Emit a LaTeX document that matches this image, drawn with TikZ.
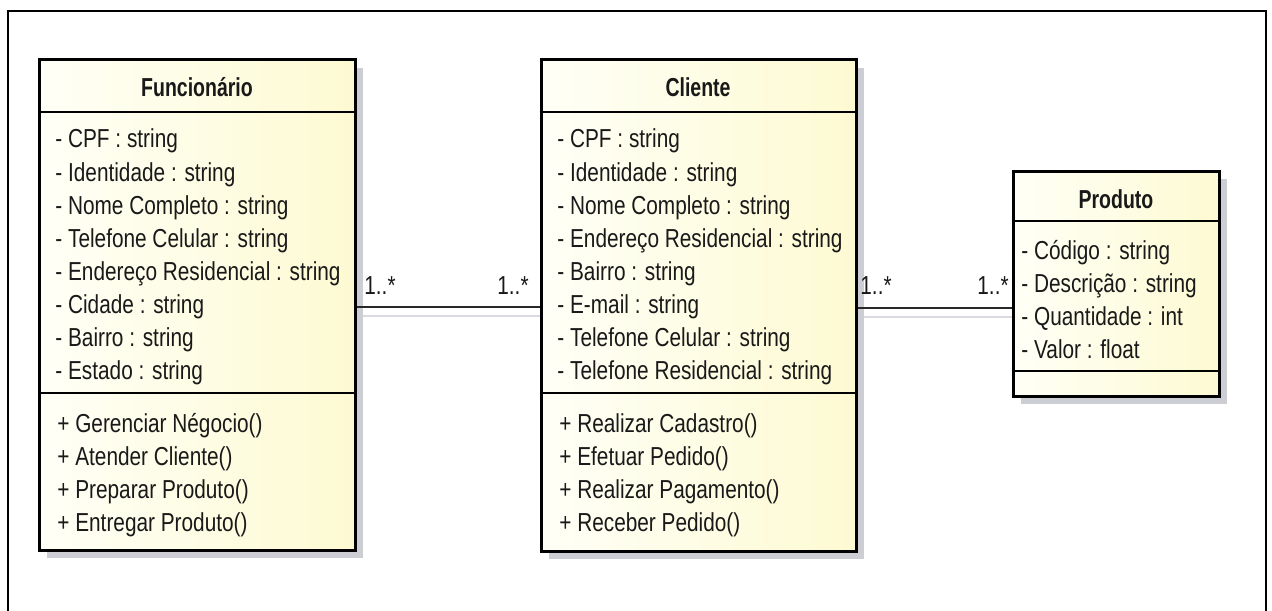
\documentclass[tikz,border=0pt]{standalone}
\usepackage{fontspec}
\setmainfont{Liberation Sans}[FakeStretch=0.8]
\newfontfamily\titlefont{Liberation Sans}[FakeStretch=0.75]
\usetikzlibrary{fit,shadows}
\definecolor{boxL}{RGB}{255,255,247}
\definecolor{boxR}{RGB}{253,250,210}
\definecolor{shadowc}{RGB}{205,205,212}
\definecolor{lshadow}{RGB}{218,218,224}
\definecolor{txt}{RGB}{25,25,25}
\begin{document}
\begin{tikzpicture}[x=0.5pt,y=-0.5pt,
  classbox/.style={draw=black, line width=1.5pt, inner sep=0pt,
    left color=boxL, right color=boxR,
    drop shadow={shadow xshift=4pt, shadow yshift=-4pt, fill=shadowc, opacity=1}},
  sepline/.style={draw=black, line width=1pt},
  attr/.style={anchor=west, inner sep=0pt, text height=10pt, text depth=1pt,
    text=txt, font=\fontsize{13}{15}\selectfont},
  ctitle/.style={anchor=center, inner sep=0pt, text height=10pt, text depth=1pt,
    text=txt, font=\titlefont\bfseries\fontsize{13}{15}\selectfont},
  mult/.style={anchor=center, inner sep=0pt, text height=10pt, text depth=1pt,
    text=txt, font=\fontsize{13}{15}\selectfont},
  assoc/.style={draw={rgb,255:red,40;green,40;blue,40}, line width=0.9pt},
  assocshadow/.style={draw=lshadow, line width=1pt},
  frame/.style={draw=black, line width=1pt}]
\useasboundingbox (0,0) rectangle (1272,610);
\fill[white] (0,0) rectangle (1272,610);
\draw[frame] (8,620) -- (8,11) -- (1266,11) -- (1266,620);

% association helper coordinates
\coordinate (l1) at (0,307);
\coordinate (l1s) at (0,316);
\coordinate (l2) at (0,308);
\coordinate (l2s) at (0,317);

% shadow lines of associations (drawn first)
\node[inner sep=0pt, fit={(39,60)(355,550)}] (funref) {};
\node[inner sep=0pt, fit={(541,60)(856,551)}] (cliref) {};
\node[inner sep=0pt, fit={(1013,171)(1219,396)}] (proref) {};
\draw[assocshadow] (funref.east |- l1s) -- (cliref.west |- l1s);
\draw[assocshadow] (cliref.east |- l2s) -- (proref.west |- l2s);

% class boxes
\node[classbox, fit={(39,60)(355,550)}] (fun) {};
\node[classbox, fit={(541,60)(856,551)}] (cli) {};
\node[classbox, fit={(1013,171)(1219,396)}] (pro) {};

% compartments
\draw[sepline] (fun.west |- 0,112) -- (fun.east |- 0,112);
\draw[sepline] (fun.west |- 0,393) -- (fun.east |- 0,393);
\draw[sepline] (cli.west |- 0,112) -- (cli.east |- 0,112);
\draw[sepline] (cli.west |- 0,393) -- (cli.east |- 0,393);
\draw[sepline] (pro.west |- 0,221) -- (pro.east |- 0,221);
\draw[sepline] (pro.west |- 0,371) -- (pro.east |- 0,371);

% titles
\node[ctitle] (funt) at (197,88) {Funcionário};
\node[ctitle] (clit) at (698,88) {Cliente};
\node[ctitle] (prot) at (1116,199) {Produto};

% Funcionario attributes
\foreach \t [count=\i] in {- CPF : string, - Identidade : string, - Nome Completo : string,
  - Telefone Celular : string, - Endereço Residencial : string, - Cidade : string,
  - Bairro : string, - Estado : string}
  \node[attr] (fa\i) at (55,{106+33*\i}) {\t};
\foreach \t [count=\i] in {+ Gerenciar Négocio(), + Atender Cliente(),
  + Preparar Produto(), + Entregar Produto()}
  \node[attr] (fm\i) at (57,{390+33*\i}) {\t};

% Cliente attributes
\foreach \t [count=\i] in {- CPF : string, - Identidade : string, - Nome Completo : string,
  - Endereço Residencial : string, - Bairro : string, - E-mail : string,
  - Telefone Celular : string, - Telefone Residencial : string}
  \node[attr] (ca\i) at (557,{106+33*\i}) {\t};
\foreach \t [count=\i] in {+ Realizar Cadastro(), + Efetuar Pedido(),
  + Realizar Pagamento(), + Receber Pedido()}
  \node[attr] (cm\i) at (559,{390+33*\i}) {\t};

% Produto attributes
\foreach \t [count=\i] in {- Código : string, - Descrição : string,
  - Quantidade : int, - Valor : float}
  \node[attr] (pa\i) at (1021,{216.7+33.3*\i}) {\t};

% associations
\draw[assoc] (fun.east |- l1) -- (cli.west |- l1);
\draw[assoc] (cli.east |- l2) -- (pro.west |- l2);

% multiplicities
\node[mult] (m1) at (380,285) {1..*};
\node[mult] (m2) at (513,285) {1..*};
\node[mult] (m3) at (876,285) {1..*};
\node[mult] (m4) at (993,285) {1..*};
\end{tikzpicture}
\end{document}
